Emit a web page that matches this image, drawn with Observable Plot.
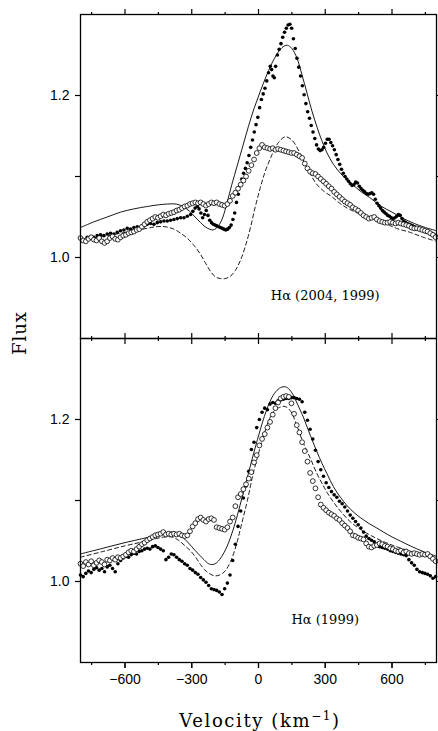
<!DOCTYPE html>
<html><head><meta charset="utf-8">
<script src="https://cdn.jsdelivr.net/npm/d3@7"></script>
<script src="https://cdn.jsdelivr.net/npm/@observablehq/plot@0.6"></script>
<style>body{margin:0;background:#fff}svg{display:block}</style>
</head><body><div id="chart"></div>
<script>
// Panels (facets)
const panels = ["Hα (2004, 1999)", "Hα (1999)"];
// Axis ticks
const xMajorTicks = [-600, -300, 0, 300, 600];
const xMinorTicks = [-750, -450, -150, 150, 450, 750];
const yTicks = [1.0, 1.1, 1.2];
const yLabeledTicks = [1.0, 1.2];
// Panel label anchors (velocity, flux)
const panelLabels = [
  {panel: panels[0], label: "Hα (2004, 1999)", v: 300, f: 0.953},
  {panel: panels[1], label: "Hα (1999)", v: 300, f: 0.953}
];

// ---- Top panel ----
const topModelSolid = [[-800,1.037],[-740,1.044],[-680,1.050],[-620,1.056],[-560,1.060],[-500,1.063],[-450,1.065],[-410,1.066],[-370,1.066],[-340,1.063],[-310,1.057],[-285,1.050],[-260,1.043],[-240,1.038],[-220,1.035],[-205,1.034],[-190,1.036],[-175,1.041],[-160,1.050],[-141,1.068],[-120,1.090],[-96,1.113],[-70,1.138],[-45,1.162],[-20,1.184],[8,1.205],[38,1.226],[68,1.244],[95,1.256],[115,1.261],[130,1.262],[150,1.258],[173,1.246],[195,1.226],[218,1.203],[240,1.181],[263,1.161],[285,1.144],[308,1.129],[337,1.115],[368,1.104],[400,1.095],[427,1.089],[457,1.082],[500,1.074],[547,1.064],[600,1.056],[652,1.048],[700,1.042],[750,1.037],[800,1.033]];
const topModelDashed = [[-800,1.022],[-700,1.026],[-600,1.031],[-520,1.035],[-460,1.038],[-420,1.038],[-380,1.035],[-350,1.030],[-321,1.024],[-290,1.015],[-261,1.004],[-238,0.993],[-216,0.983],[-193,0.976],[-171,0.974],[-150,0.974],[-126,0.977],[-104,0.984],[-82,0.996],[-60,1.013],[-37,1.036],[-15,1.062],[8,1.086],[30,1.106],[61,1.127],[90,1.142],[120,1.149],[150,1.145],[188,1.128],[210,1.115],[233,1.103],[260,1.091],[293,1.082],[330,1.075],[370,1.066],[412,1.059],[490,1.050],[562,1.043],[620,1.036],[682,1.031],[740,1.025],[800,1.020]];
const top2004 = [[-800,1.024],[-785,1.022],[-770,1.025],[-755,1.026],[-740,1.025],[-725,1.027],[-710,1.028],[-695,1.027],[-680,1.029],[-665,1.030],[-650,1.029],[-635,1.031],[-620,1.033],[-605,1.034],[-590,1.036],[-575,1.035],[-560,1.037],[-545,1.038],[-530,1.037],[-515,1.039],[-500,1.041],[-485,1.042],[-470,1.041],[-455,1.043],[-440,1.044],[-425,1.045],[-410,1.045],[-395,1.046],[-380,1.047],[-365,1.048],[-350,1.049],[-335,1.049],[-320,1.051],[-305,1.053],[-295,1.057],[-285,1.061],[-275,1.063],[-267,1.060],[-259,1.055],[-251,1.049],[-243,1.053],[-235,1.058],[-227,1.052],[-219,1.046],[-211,1.043],[-203,1.041],[-195,1.040],[-187,1.039],[-179,1.038],[-171,1.037],[-163,1.036],[-155,1.035],[-147,1.034],[-139,1.035],[-131,1.037],[-123,1.040],[-115,1.047],[-107,1.055],[-99,1.068],[-91,1.078],[-83,1.090],[-75,1.097],[-67,1.104],[-59,1.110],[-51,1.117],[-43,1.126],[-35,1.136],[-27,1.145],[-19,1.155],[-11,1.164],[-3,1.173],[5,1.185],[13,1.195],[21,1.202],[29,1.209],[37,1.218],[45,1.228],[53,1.236],[59,1.232],[65,1.224],[71,1.222],[77,1.236],[85,1.250],[93,1.257],[101,1.264],[109,1.272],[117,1.278],[125,1.283],[133,1.287],[141,1.288],[149,1.283],[157,1.270],[165,1.258],[173,1.246],[181,1.235],[189,1.224],[197,1.212],[205,1.201],[213,1.190],[221,1.180],[229,1.172],[237,1.163],[245,1.155],[253,1.147],[261,1.139],[269,1.134],[277,1.132],[285,1.133],[293,1.136],[301,1.141],[309,1.146],[317,1.146],[325,1.142],[333,1.138],[341,1.133],[349,1.127],[357,1.121],[365,1.115],[373,1.109],[381,1.104],[389,1.100],[397,1.097],[405,1.094],[413,1.091],[421,1.089],[429,1.090],[437,1.093],[445,1.092],[453,1.088],[461,1.085],[469,1.083],[477,1.081],[485,1.079],[493,1.078],[501,1.079],[509,1.080],[517,1.078],[525,1.072],[533,1.067],[541,1.064],[549,1.061],[557,1.058],[565,1.056],[573,1.054],[581,1.052],[589,1.051],[597,1.049],[605,1.048],[613,1.049],[621,1.051],[629,1.053],[637,1.052],[645,1.048],[653,1.045],[661,1.043],[669,1.042],[677,1.041],[685,1.040],[693,1.039],[701,1.038],[709,1.037],[717,1.036],[725,1.036],[733,1.034],[741,1.033],[749,1.032],[757,1.032],[765,1.031],[773,1.030],[781,1.029],[789,1.028],[797,1.027]];
const top1999 = [[-800,1.024],[-788,1.021],[-776,1.020],[-764,1.023],[-752,1.025],[-740,1.022],[-728,1.021],[-716,1.024],[-704,1.020],[-692,1.018],[-680,1.020],[-668,1.024],[-656,1.026],[-644,1.023],[-632,1.022],[-620,1.025],[-608,1.027],[-596,1.028],[-584,1.030],[-572,1.031],[-560,1.032],[-548,1.034],[-536,1.035],[-524,1.038],[-512,1.041],[-500,1.044],[-488,1.046],[-476,1.048],[-464,1.050],[-452,1.049],[-440,1.051],[-428,1.053],[-416,1.052],[-404,1.054],[-392,1.055],[-380,1.056],[-368,1.058],[-356,1.059],[-344,1.061],[-332,1.063],[-320,1.064],[-308,1.066],[-296,1.067],[-284,1.068],[-272,1.067],[-260,1.068],[-248,1.066],[-236,1.064],[-224,1.066],[-212,1.068],[-200,1.067],[-188,1.068],[-176,1.066],[-164,1.065],[-152,1.064],[-140,1.066],[-128,1.070],[-116,1.076],[-104,1.080],[-92,1.085],[-80,1.090],[-68,1.095],[-56,1.100],[-44,1.107],[-32,1.114],[-20,1.121],[-8,1.129],[4,1.135],[16,1.139],[28,1.136],[40,1.135],[52,1.134],[64,1.135],[76,1.133],[88,1.134],[100,1.133],[112,1.132],[124,1.131],[136,1.130],[148,1.129],[160,1.129],[172,1.127],[184,1.125],[196,1.123],[208,1.116],[220,1.110],[232,1.106],[244,1.104],[256,1.103],[268,1.100],[280,1.097],[292,1.094],[304,1.091],[316,1.088],[328,1.085],[340,1.081],[352,1.078],[364,1.075],[376,1.072],[388,1.069],[400,1.067],[412,1.065],[424,1.062],[436,1.060],[448,1.058],[460,1.055],[472,1.052],[484,1.050],[496,1.048],[508,1.049],[520,1.050],[532,1.047],[544,1.045],[556,1.044],[568,1.043],[580,1.043],[592,1.044],[604,1.043],[616,1.042],[628,1.043],[640,1.042],[652,1.041],[664,1.040],[676,1.039],[688,1.037],[700,1.036],[712,1.036],[724,1.035],[736,1.034],[748,1.033],[760,1.032],[772,1.030],[784,1.028],[796,1.025]];

// ---- Bottom panel ----
const bottomModelSolid = [[-800,1.034],[-700,1.041],[-600,1.048],[-520,1.053],[-460,1.057],[-420,1.060],[-390,1.061],[-360,1.058],[-330,1.052],[-300,1.043],[-270,1.034],[-245,1.027],[-225,1.022],[-205,1.021],[-185,1.024],[-165,1.031],[-145,1.041],[-125,1.055],[-105,1.072],[-85,1.092],[-65,1.113],[-45,1.134],[-25,1.155],[-5,1.175],[15,1.194],[38,1.213],[60,1.227],[83,1.236],[105,1.240],[125,1.240],[145,1.235],[165,1.225],[185,1.213],[203,1.202],[225,1.186],[245,1.172],[263,1.160],[285,1.146],[308,1.133],[337,1.117],[368,1.104],[400,1.093],[430,1.085],[457,1.079],[500,1.071],[532,1.066],[562,1.061],[600,1.055],[637,1.050],[682,1.044],[740,1.037],[800,1.031]];
const bottomModelDashed = [[-800,1.030],[-700,1.037],[-600,1.044],[-520,1.049],[-460,1.053],[-420,1.055],[-390,1.055],[-360,1.051],[-330,1.044],[-306,1.038],[-280,1.029],[-261,1.021],[-240,1.014],[-216,1.009],[-195,1.007],[-175,1.008],[-150,1.013],[-125,1.025],[-100,1.045],[-75,1.072],[-50,1.100],[-25,1.132],[0,1.158],[23,1.180],[45,1.198],[68,1.210],[95,1.215],[120,1.216],[145,1.210],[173,1.192],[200,1.172],[233,1.152],[263,1.133],[290,1.119],[308,1.110],[337,1.098],[368,1.087],[412,1.074],[460,1.064],[532,1.053],[600,1.045],[652,1.040],[720,1.034],[800,1.027]];
const bottomFilled = [[-800,1.008],[-788,1.006],[-776,1.010],[-764,1.013],[-752,1.011],[-740,1.015],[-728,1.017],[-716,1.014],[-704,1.016],[-692,1.012],[-680,1.018],[-668,1.020],[-656,1.016],[-644,1.012],[-632,1.022],[-620,1.026],[-608,1.029],[-596,1.031],[-584,1.030],[-572,1.033],[-560,1.035],[-548,1.034],[-536,1.037],[-524,1.038],[-512,1.040],[-500,1.041],[-488,1.040],[-476,1.043],[-464,1.044],[-452,1.042],[-440,1.040],[-428,1.038],[-416,1.027],[-404,1.030],[-392,1.034],[-380,1.033],[-368,1.030],[-356,1.027],[-344,1.025],[-332,1.022],[-320,1.020],[-308,1.016],[-296,1.014],[-284,1.011],[-272,1.009],[-260,1.005],[-248,1.002],[-236,0.999],[-224,0.995],[-212,0.991],[-200,0.990],[-188,0.989],[-176,0.987],[-164,0.984],[-152,0.991],[-140,0.998],[-128,1.008],[-116,1.026],[-104,1.046],[-92,1.068],[-80,1.087],[-68,1.103],[-56,1.118],[-44,1.136],[-32,1.163],[-20,1.172],[-8,1.190],[4,1.200],[16,1.209],[28,1.214],[40,1.212],[52,1.219],[64,1.221],[76,1.220],[88,1.223],[100,1.224],[112,1.225],[124,1.226],[136,1.226],[148,1.227],[160,1.227],[172,1.226],[184,1.225],[196,1.222],[208,1.209],[220,1.199],[232,1.188],[244,1.176],[256,1.162],[268,1.148],[280,1.138],[292,1.130],[304,1.122],[316,1.116],[328,1.111],[340,1.107],[352,1.104],[364,1.099],[376,1.096],[388,1.092],[400,1.087],[412,1.082],[424,1.078],[436,1.074],[448,1.070],[460,1.066],[472,1.061],[484,1.056],[496,1.053],[508,1.051],[520,1.049],[532,1.046],[544,1.043],[556,1.042],[568,1.041],[580,1.040],[592,1.038],[604,1.037],[616,1.036],[628,1.035],[640,1.034],[652,1.033],[664,1.032],[676,1.027],[688,1.023],[700,1.020],[712,1.015],[724,1.012],[736,1.011],[748,1.010],[760,1.009],[772,1.007],[784,1.004],[796,1.006]];
const bottomOpen = [[-800,1.022],[-788,1.019],[-776,1.024],[-764,1.021],[-752,1.025],[-740,1.020],[-728,1.023],[-716,1.026],[-704,1.024],[-692,1.021],[-680,1.027],[-668,1.026],[-656,1.029],[-644,1.027],[-632,1.030],[-620,1.029],[-608,1.031],[-596,1.033],[-584,1.036],[-572,1.038],[-560,1.037],[-548,1.040],[-536,1.043],[-524,1.046],[-512,1.048],[-500,1.051],[-488,1.053],[-476,1.055],[-464,1.057],[-452,1.058],[-440,1.059],[-428,1.061],[-416,1.058],[-404,1.059],[-392,1.058],[-380,1.059],[-368,1.058],[-356,1.059],[-344,1.057],[-332,1.056],[-320,1.057],[-308,1.062],[-296,1.068],[-284,1.072],[-272,1.077],[-260,1.079],[-248,1.076],[-236,1.074],[-224,1.077],[-212,1.078],[-200,1.076],[-188,1.067],[-176,1.066],[-164,1.065],[-152,1.064],[-140,1.067],[-128,1.074],[-116,1.079],[-104,1.093],[-92,1.104],[-80,1.108],[-68,1.114],[-56,1.120],[-44,1.127],[-32,1.135],[-20,1.147],[-8,1.156],[4,1.168],[16,1.176],[28,1.182],[40,1.190],[52,1.197],[64,1.206],[76,1.214],[88,1.221],[100,1.226],[112,1.228],[124,1.229],[136,1.228],[148,1.220],[160,1.207],[172,1.193],[184,1.184],[196,1.172],[208,1.161],[220,1.148],[232,1.134],[244,1.124],[256,1.115],[268,1.104],[280,1.095],[292,1.091],[304,1.088],[316,1.085],[328,1.083],[340,1.081],[352,1.078],[364,1.076],[376,1.072],[388,1.069],[400,1.066],[412,1.062],[424,1.057],[436,1.056],[448,1.054],[460,1.053],[472,1.052],[484,1.047],[496,1.043],[508,1.042],[520,1.044],[532,1.045],[544,1.047],[556,1.046],[568,1.044],[580,1.043],[592,1.041],[604,1.040],[616,1.038],[628,1.037],[640,1.038],[652,1.036],[664,1.037],[676,1.035],[688,1.034],[700,1.035],[712,1.034],[724,1.033],[736,1.034],[748,1.033],[760,1.034],[772,1.031],[784,1.028],[796,1.025]];

const rows = (arr, panel) => arr.map(([v, f]) => ({panel, v, f}));
const solidRows = [...rows(topModelSolid, panels[0]), ...rows(bottomModelSolid, panels[1])];
const dashedRows = [...rows(topModelDashed, panels[0]), ...rows(bottomModelDashed, panels[1])];
const filledRows = [...rows(top2004, panels[0]), ...rows(bottomFilled, panels[1])];
const openRows = [...rows(top1999, panels[0]), ...rows(bottomOpen, panels[1])];

const fmtX = d => d < 0 ? "\u2212" + Math.abs(d) : String(d);
const fmtY = d => yLabeledTicks.includes(d) ? d.toFixed(1) : "";
const blank = () => "";

const chart = Plot.plot({
  width: 438,
  height: 731,
  marginLeft: 80,
  marginRight: 2,
  marginTop: 13,
  marginBottom: 69,
  style: {fontFamily: "'Liberation Sans', Arial, sans-serif", fontSize: "14px", color: "black", background: "white"},
  x: {domain: [-800, 800]},
  y: {domain: [0.9, 1.3]},
  fy: {domain: panels, padding: 0, axis: null},
  marks: [
    Plot.line(solidRows, {x: "v", y: "f", fy: "panel", z: "panel", stroke: "black", strokeWidth: 0.9, curve: "catmull-rom"}),
    Plot.line(dashedRows, {x: "v", y: "f", fy: "panel", z: "panel", stroke: "black", strokeWidth: 0.9, strokeDasharray: "4,3", curve: "catmull-rom"}),
    Plot.dot(filledRows, {x: "v", y: "f", fy: "panel", r: 1.8, fill: "black", stroke: "none"}),
    Plot.dot(openRows, {x: "v", y: "f", fy: "panel", r: 2.4, fill: "white", stroke: "black", strokeWidth: 0.8}),
    Plot.text(panelLabels, {x: "v", y: "f", fy: "panel", text: "label", fontFamily: "'DejaVu Serif', serif", fontSize: 13, fill: "black"}),
    Plot.frame({stroke: "black", strokeWidth: 1.3}),
    Plot.axisX({anchor: "bottom", ticks: xMajorTicks, tickSize: 6, tickPadding: 6, tickFormat: fmtX, label: null, strokeWidth: 1.2}),
    Plot.axisX({anchor: "bottom", ticks: xMajorTicks, tickSize: 6, tickFormat: blank, label: null, facetAnchor: null, strokeWidth: 1.2}),
    Plot.axisX({anchor: "bottom", ticks: xMinorTicks, tickSize: 3, tickFormat: blank, label: null, facetAnchor: null, strokeWidth: 1.2}),
    Plot.axisX({anchor: "top", ticks: xMajorTicks, tickSize: 6, tickFormat: blank, label: null, facetAnchor: null, strokeWidth: 1.2}),
    Plot.axisX({anchor: "top", ticks: xMinorTicks, tickSize: 3, tickFormat: blank, label: null, facetAnchor: null, strokeWidth: 1.2}),
    Plot.axisY({anchor: "left", ticks: yTicks, tickSize: 5, tickPadding: 6, tickFormat: fmtY, label: null, facetAnchor: null, strokeWidth: 1.2}),
    Plot.axisY({anchor: "right", ticks: yTicks, tickSize: 5, tickFormat: blank, label: null, facetAnchor: null, strokeWidth: 1.2})
  ]
});

const svg = d3.select(chart);
svg.append("text")
  .attr("transform", "translate(21,333) rotate(-90)")
  .attr("text-anchor", "middle")
  .attr("dominant-baseline", "middle")
  .attr("font-family", "'DejaVu Serif', serif")
  .attr("font-size", 18)
  .attr("letter-spacing", 1)
  .attr("fill", "black")
  .text("Flux");
const xl = svg.append("text")
  .attr("x", 260).attr("y", 727)
  .attr("text-anchor", "middle")
  .attr("font-family", "'DejaVu Serif', serif")
  .attr("font-size", 18)
  .attr("letter-spacing", 1.6)
  .attr("fill", "black");
xl.append("tspan").text("Velocity (km");
xl.append("tspan").attr("dy", -7).attr("font-size", 12).text("\u22121");
xl.append("tspan").attr("dy", 7).text(")");

document.getElementById("chart").appendChild(chart);
</script>
</body></html>
